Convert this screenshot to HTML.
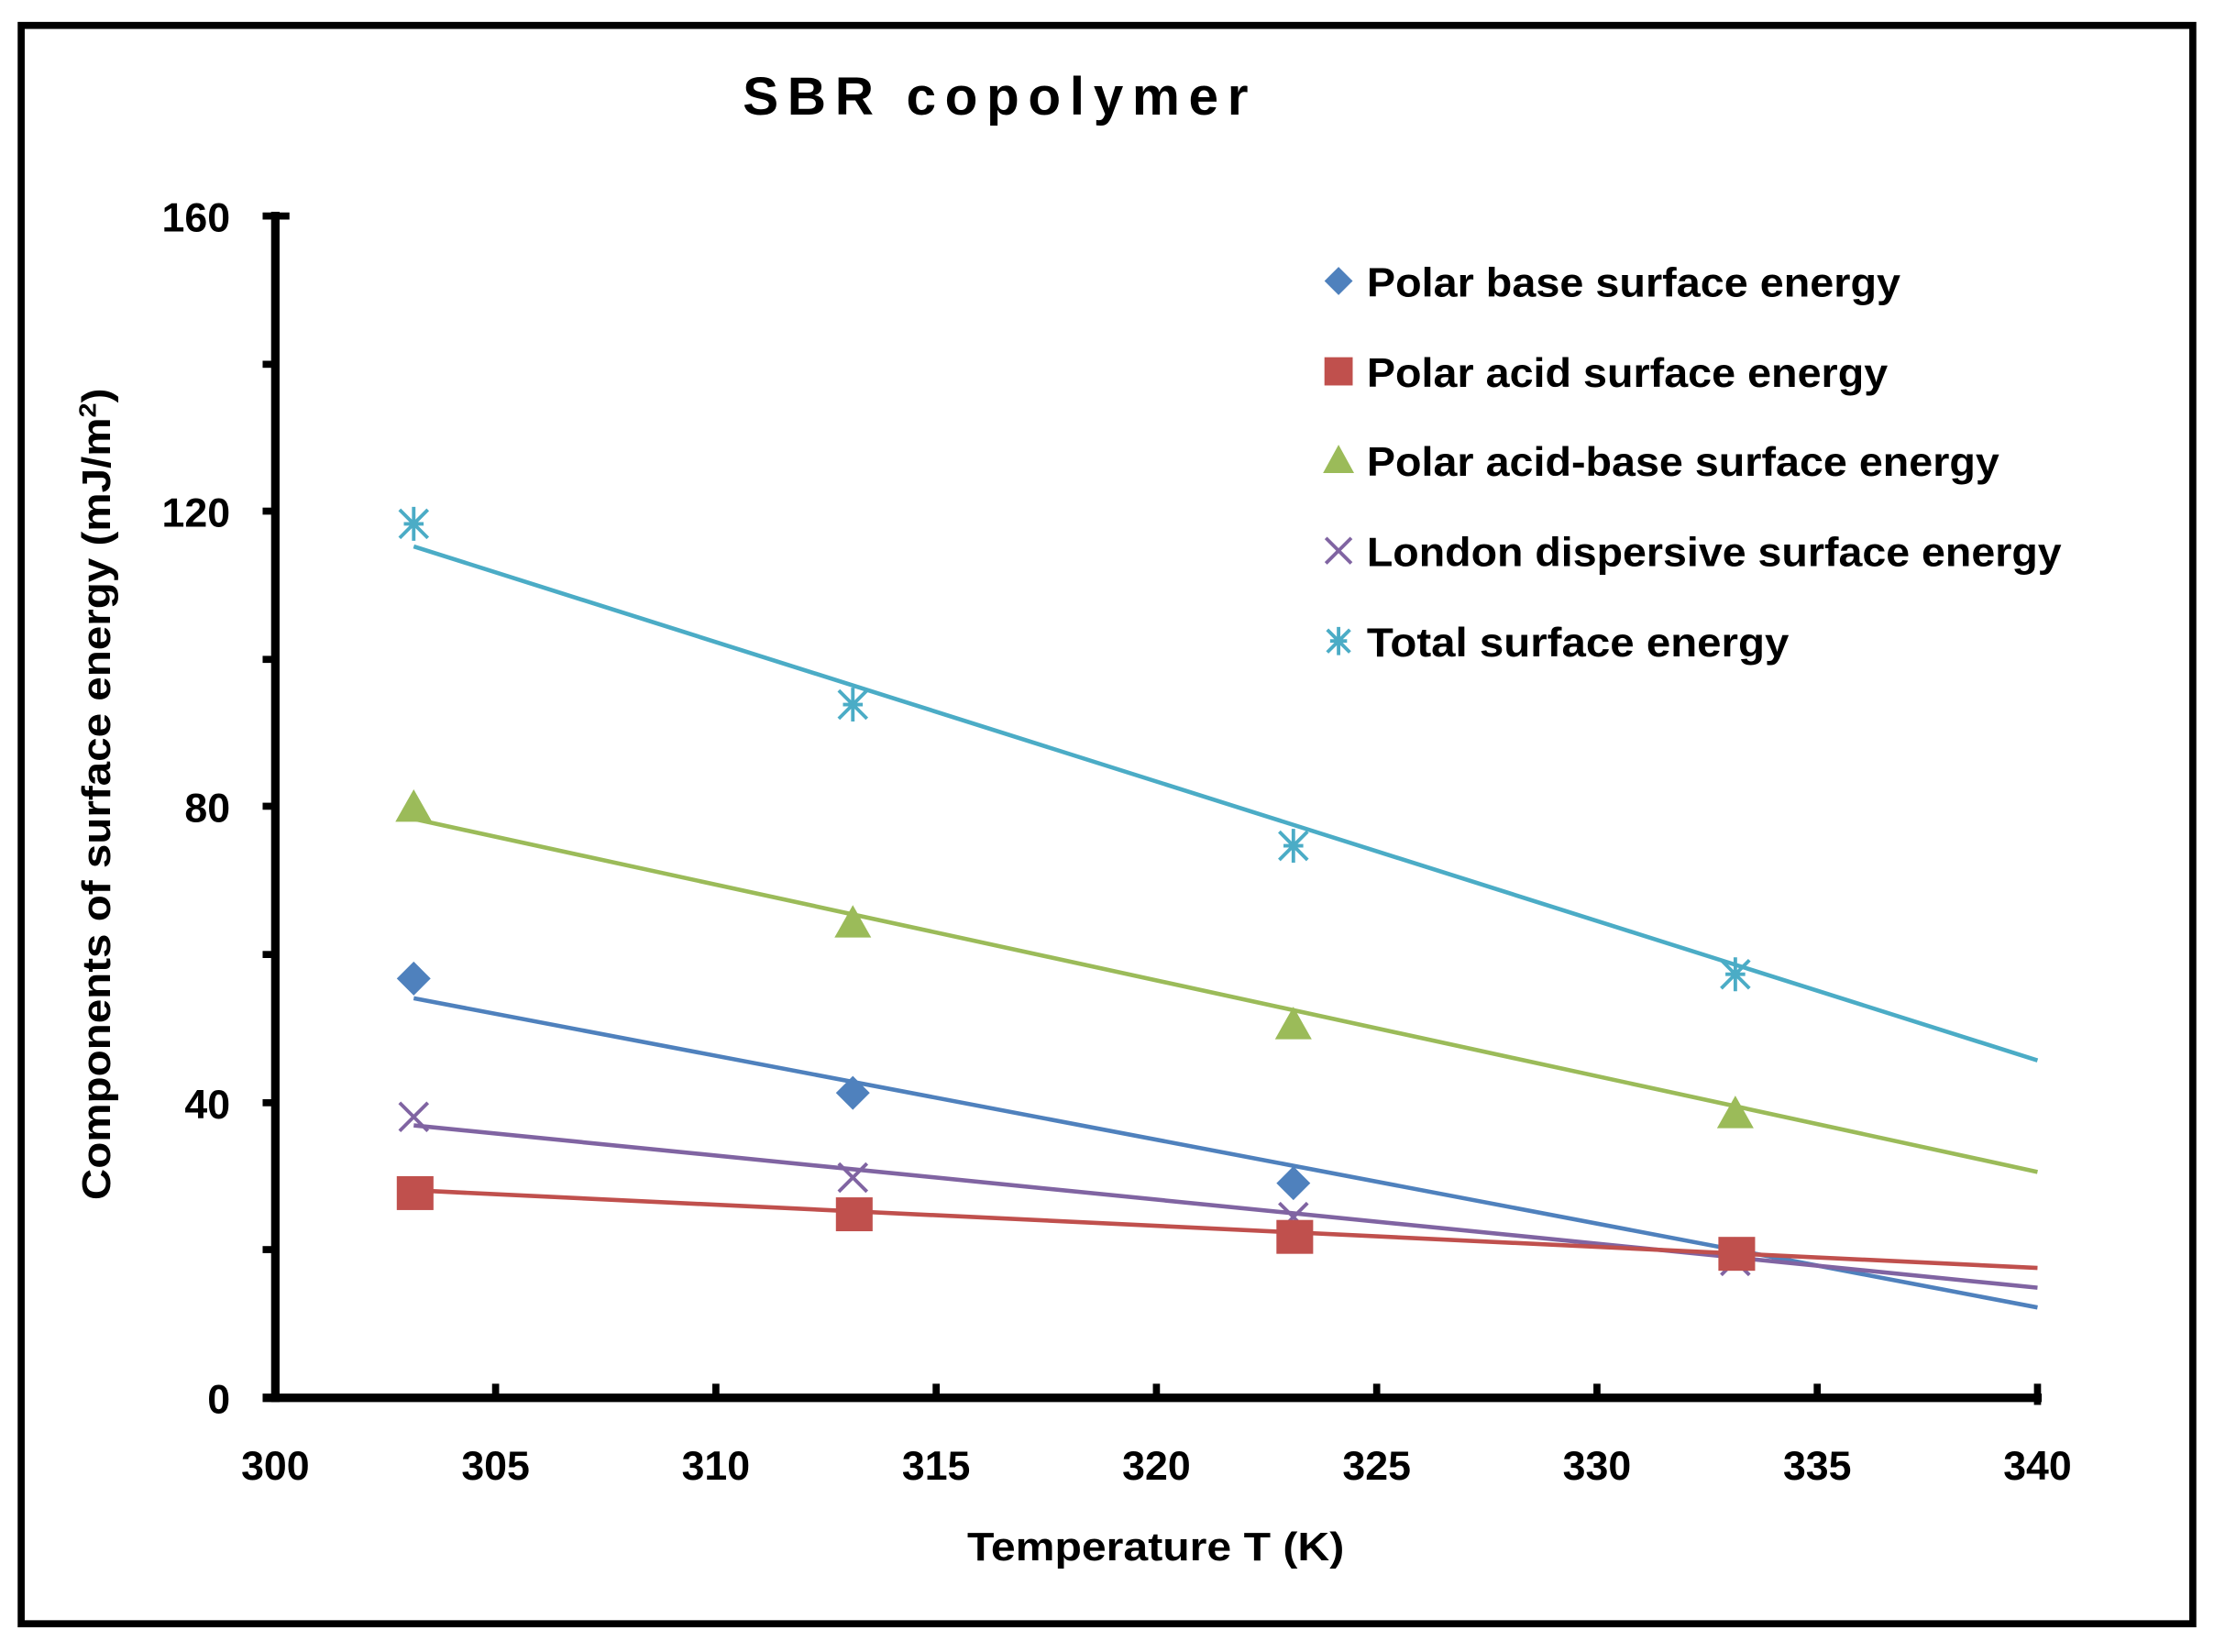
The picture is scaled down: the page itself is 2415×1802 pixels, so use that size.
<!DOCTYPE html>
<html><head><meta charset="utf-8"><style>
html,body{margin:0;padding:0;background:#fff;}
svg{display:block;}
text{font-family:"Liberation Sans",sans-serif;font-weight:bold;fill:#000;}
</style></head><body>
<svg width="2415" height="1802" viewBox="0 0 1568 1170" xmlns="http://www.w3.org/2000/svg">
<rect x="0" y="0" width="1568" height="1170" fill="#fff"/>
<rect x="15" y="18" width="1538" height="1132" fill="none" stroke="#000" stroke-width="5"/>
<text x="526" y="81" font-size="38" textLength="358" lengthAdjust="spacing">SBR copolymer</text>
<g stroke="#000" stroke-width="6">
<line x1="195" y1="150" x2="195" y2="993"/>
<line x1="186" y1="990" x2="1446" y2="990"/>
</g>
<g stroke="#000" stroke-width="5">
<line x1="186" y1="153" x2="205" y2="153"/>
<line x1="186" y1="258" x2="195" y2="258"/>
<line x1="186" y1="362" x2="195" y2="362"/>
<line x1="186" y1="467" x2="195" y2="467"/>
<line x1="186" y1="571" x2="195" y2="571"/>
<line x1="186" y1="676" x2="195" y2="676"/>
<line x1="186" y1="781" x2="195" y2="781"/>
<line x1="186" y1="885" x2="195" y2="885"/>
<line x1="351" y1="980" x2="351" y2="990"/>
<line x1="507" y1="980" x2="507" y2="990"/>
<line x1="663" y1="980" x2="663" y2="990"/>
<line x1="819" y1="980" x2="819" y2="990"/>
<line x1="975" y1="980" x2="975" y2="990"/>
<line x1="1131" y1="980" x2="1131" y2="990"/>
<line x1="1287" y1="980" x2="1287" y2="990"/>
<line x1="1443" y1="980" x2="1443" y2="995"/>
</g>
<g font-size="29" text-anchor="end">
<text x="163" y="164">160</text>
<text x="163" y="373">120</text>
<text x="163" y="582">80</text>
<text x="163" y="792">40</text>
<text x="163" y="1001">0</text>
</g>
<g font-size="29" text-anchor="middle">
<text x="195" y="1048">300</text>
<text x="351" y="1048">305</text>
<text x="507" y="1048">310</text>
<text x="663" y="1048">315</text>
<text x="819" y="1048">320</text>
<text x="975" y="1048">325</text>
<text x="1131" y="1048">330</text>
<text x="1287" y="1048">335</text>
<text x="1443" y="1048">340</text>
</g>
<text x="685" y="1105" font-size="28" textLength="267" lengthAdjust="spacingAndGlyphs">Temperature T (K)</text>
<text transform="translate(78,850) rotate(-90)" font-size="28" textLength="575" lengthAdjust="spacingAndGlyphs">Components of surface energy (mJ/m<tspan font-size="17" dy="-10">2</tspan><tspan dy="10">)</tspan></text>
<g stroke-width="3" fill="none">
<line x1="293" y1="387" x2="1443" y2="751" stroke="#4BACC6"/>
<line x1="293" y1="580" x2="1443" y2="830" stroke="#9BBB59"/>
<line x1="293" y1="707" x2="1443" y2="926" stroke="#4F81BD"/>
<line x1="293" y1="797" x2="1443" y2="912" stroke="#8064A2"/>
<line x1="293" y1="843" x2="1443" y2="898" stroke="#C0504D"/>
</g>
<g fill="#4F81BD">
<polygon points="293,681 305,693 293,705 281,693"/>
<polygon points="604,762 616,774 604,786 592,774"/>
<polygon points="916,826 928,838 916,850 904,838"/>
<polygon points="1229,876 1241,888 1229,900 1217,888"/>
</g>
<g stroke="#8064A2" stroke-width="2.5">
<path d="M283,781 L303,801 M303,781 L283,801"/>
<path d="M594,824 L614,844 M614,824 L594,844"/>
<path d="M906,852 L926,872 M926,852 L906,872"/>
<path d="M1219,883 L1239,903 M1239,883 L1219,903"/>
</g>
<g fill="#C0504D">
<rect x="281" y="833" width="26" height="24"/>
<rect x="592" y="848" width="26" height="24"/>
<rect x="904" y="864" width="26" height="24"/>
<rect x="1217" y="876" width="26" height="24"/>
</g>
<g fill="#9BBB59">
<polygon points="293,559 306,582 280,582"/>
<polygon points="604,641 617,664 591,664"/>
<polygon points="916,713 929,736 903,736"/>
<polygon points="1229,776 1242,799 1216,799"/>
</g>
<g stroke="#4BACC6" stroke-width="2.5">
<path d="M283,361 L303,381 M303,361 L283,381 M286,371 L300,371 M293,359 L293,383"/>
<path d="M594,489 L614,509 M614,489 L594,509 M597,499 L611,499 M604,487 L604,511"/>
<path d="M906,589 L926,609 M926,589 L906,609 M909,599 L923,599 M916,587 L916,611"/>
<path d="M1219,680 L1239,700 M1239,680 L1219,700 M1222,690 L1236,690 M1229,678 L1229,702"/>
</g>
<polygon points="948,189 958,199 948,209 938,199" fill="#4F81BD"/>
<rect x="938" y="253" width="20" height="20" fill="#C0504D"/>
<polygon points="948,315 959,335 937,335" fill="#9BBB59"/>
<path d="M939,381 L957,399 M957,381 L939,399" stroke="#8064A2" stroke-width="2.5"/>
<path d="M940,446 L956,462 M956,446 L940,462 M948,444 L948,464 M942,454 L954,454" stroke="#4BACC6" stroke-width="2.5"/>
<g font-size="29" lengthAdjust="spacingAndGlyphs">
<text x="968" y="210" textLength="378" lengthAdjust="spacingAndGlyphs">Polar base surface energy</text>
<text x="968" y="274" textLength="369" lengthAdjust="spacingAndGlyphs">Polar acid surface energy</text>
<text x="968" y="337" textLength="448" lengthAdjust="spacingAndGlyphs">Polar acid-base surface energy</text>
<text x="968" y="401" textLength="492" lengthAdjust="spacingAndGlyphs">London dispersive surface energy</text>
<text x="968" y="465" textLength="299" lengthAdjust="spacingAndGlyphs">Total surface energy</text>
</g>
</svg>
</body></html>
